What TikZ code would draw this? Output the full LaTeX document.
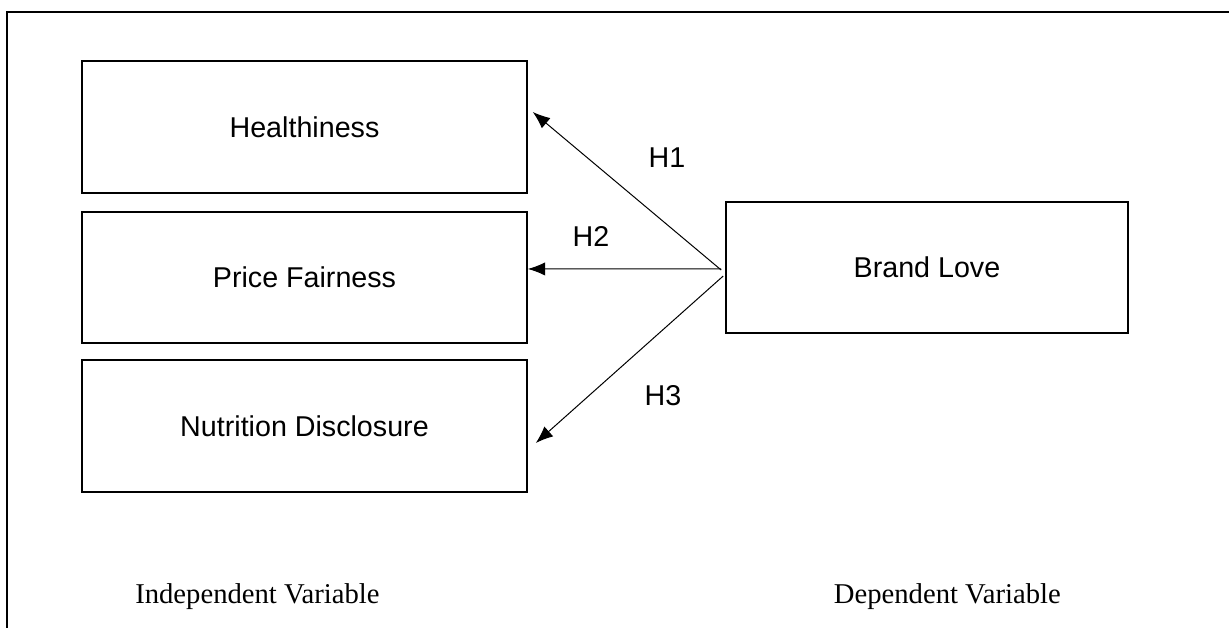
\documentclass[tikz,border=0pt]{standalone}
\usepackage{fontspec}
\setmainfont{Liberation Serif}
\newfontfamily\boxfont{Liberation Sans}
\usepackage{tikz}
\usetikzlibrary{arrows.meta}

\begin{document}
\begin{tikzpicture}[x=0.75pt, y=-0.75pt,
  box/.style={draw, rectangle, line width=1.2pt, minimum width=333.75pt, minimum height=99pt, font=\boxfont\fontsize{21.5pt}{25pt}\selectfont},
  hyp/.style={-{Latex[length=13pt,width=10pt]},line width=0.75pt},
  lab/.style={font=\boxfont\fontsize{21.5pt}{25pt}\selectfont}]
\useasboundingbox (0,0) rectangle (1229,628);
\draw [line width=1.5pt] (1229,12) -- (7,12) -- (7,628);
\node[box] (heal) at (304.5,127) {Healthiness};
\node[box, minimum height=98.25pt] (price) at (304.5,277.5) {Price Fairness};
\node[box] (nutr) at (304.5,426) {Nutrition Disclosure};
\node[box, minimum width=301.5pt, minimum height=98.25pt] (love) at (927,267.5) {Brand Love};
\node[lab] (h1) at (667,158) {H1};
\node[lab] (h2) at (591,236) {H2};
\node[lab] (h3) at (663,396) {H3};
\draw [hyp] ([xshift=-3pt, yshift=-1.9pt] love.west) -- ([xshift=3.75pt, yshift=11.25pt] heal.east);
\draw [hyp] ([xshift=-3pt, yshift=-1pt] love.west) -- ([yshift=6.4pt] price.east);
\draw [hyp] ([xshift=-1.5pt, yshift=-6.4pt] love.west) -- ([xshift=6pt, yshift=-12.75pt] nutr.east);
\node[anchor=base west, inner sep=0pt, font=\fontsize{21.5pt}{25pt}\selectfont] (indep) at (135,603) {Independent Variable};
\node[anchor=base east, inner sep=0pt, font=\fontsize{21.5pt}{25pt}\selectfont] (dep) at (1061,603) {Dependent Variable};
\end{tikzpicture}
\end{document}
